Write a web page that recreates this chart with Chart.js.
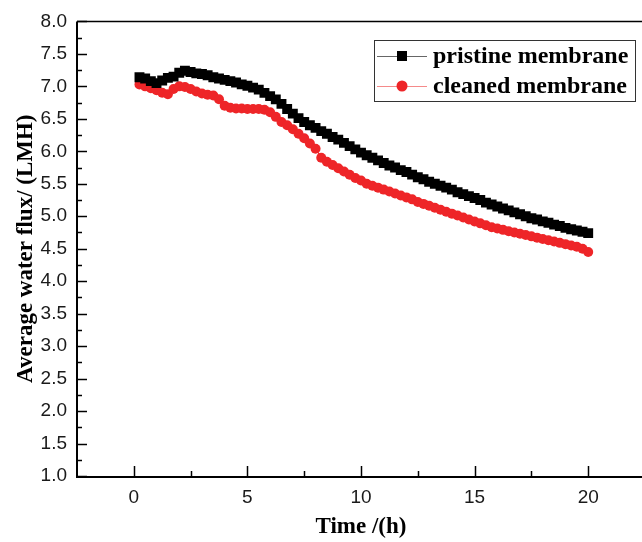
<!DOCTYPE html>
<html>
<head>
<meta charset="utf-8">
<script src="https://cdn.jsdelivr.net/npm/chart.js@4/dist/chart.umd.min.js"></script>
<style>
  html, body { margin: 0; padding: 0; background: #fff; overflow: hidden; width: 642px; height: 542px; }
  #wrap { width: 652px; height: 542px; }
</style>
</head>
<body>
<div id="wrap"><canvas id="c" width="652" height="542"></canvas></div>
<script>
// ---- data ----
const timeH = [0.25,0.5,0.75,1.0,1.25,1.5,1.75,2.0,2.25,2.5,2.75,3.0,3.25,3.5,3.75,4.0,4.25,4.5,4.75,5.0,
  5.25,5.5,5.75,6.0,6.25,6.5,6.75,7.0,7.25,7.5,7.75,8.0,8.25,8.5,8.75,9.0,9.25,9.5,9.75,10.0,
  10.25,10.5,10.75,11.0,11.25,11.5,11.75,12.0,12.25,12.5,12.75,13.0,13.25,13.5,13.75,14.0,14.25,14.5,14.75,15.0,
  15.25,15.5,15.75,16.0,16.25,16.5,16.75,17.0,17.25,17.5,17.75,18.0,18.25,18.5,18.75,19.0,19.25,19.5,19.75,20.0];
const pristineFlux = [7.14,7.12,7.08,7.05,7.09,7.13,7.15,7.21,7.24,7.22,7.20,7.19,7.17,7.14,7.12,7.10,7.08,7.06,7.03,7.01,
  6.98,6.95,6.90,6.85,6.80,6.73,6.65,6.58,6.51,6.45,6.40,6.36,6.31,6.27,6.22,6.18,6.13,6.08,6.03,5.98,
  5.94,5.90,5.86,5.82,5.78,5.75,5.71,5.68,5.64,5.60,5.57,5.53,5.50,5.47,5.44,5.41,5.37,5.34,5.31,5.28,
  5.25,5.21,5.18,5.15,5.12,5.09,5.06,5.03,5.00,4.97,4.95,4.92,4.90,4.87,4.85,4.82,4.80,4.78,4.76,4.74];
const cleanedFlux = [7.03,7.00,6.97,6.94,6.90,6.88,6.96,7.00,6.99,6.96,6.92,6.89,6.87,6.86,6.80,6.70,6.67,6.66,6.66,6.65,
  6.65,6.65,6.64,6.60,6.53,6.45,6.40,6.34,6.27,6.20,6.12,6.04,5.90,5.84,5.79,5.74,5.69,5.64,5.59,5.55,
  5.50,5.47,5.44,5.41,5.38,5.35,5.32,5.29,5.26,5.22,5.19,5.16,5.13,5.10,5.07,5.04,5.01,4.98,4.95,4.92,
  4.89,4.86,4.83,4.81,4.79,4.77,4.75,4.73,4.71,4.69,4.67,4.65,4.63,4.61,4.59,4.57,4.55,4.53,4.50,4.45];
const seriesNames = ['pristine membrane', 'cleaned membrane'];
const xTickValues = [0, 5, 10, 15, 20];
const xMinorValues = [2.5, 7.5, 12.5, 17.5];

const BLACK = '#000000';
const RED = '#ee2528';
const serif = '"Liberation Serif", "Times New Roman", serif';
const sans = '"Liberation Sans", Arial, sans-serif';

const toPts = (ys) => timeH.map((t, i) => ({ x: t, y: ys[i] }));

const framePlugin = {
  id: 'frame',
  afterDraw(chart) {
    const { ctx, chartArea: a, scales: { x, y } } = chart;
    ctx.save();
    ctx.strokeStyle = '#000';
    // y ticks (inward)
    ctx.lineWidth = 1.5;
    for (let v = 1; v <= 8.0001; v += 0.25) {
      const py = Math.round(y.getPixelForValue(v)) + 0.5;
      const major = Math.abs(v * 2 - Math.round(v * 2)) < 1e-6;
      ctx.beginPath();
      ctx.moveTo(a.left, py);
      ctx.lineTo(a.left + (major ? 10 : 5), py);
      ctx.stroke();
    }
    // x ticks (inward)
    xTickValues.forEach(v => {
      const px = Math.round(x.getPixelForValue(v)) + 0.5;
      ctx.beginPath(); ctx.moveTo(px, a.bottom); ctx.lineTo(px, a.bottom - 10); ctx.stroke();
    });
    xMinorValues.forEach(v => {
      const px = Math.round(x.getPixelForValue(v)) + 0.5;
      ctx.beginPath(); ctx.moveTo(px, a.bottom); ctx.lineTo(px, a.bottom - 5); ctx.stroke();
    });
    // frame
    ctx.lineWidth = 2;
    ctx.beginPath();
    ctx.moveTo(a.left, a.top); ctx.lineTo(a.left, a.bottom + 1); ctx.lineTo(a.right, a.bottom + 1);
    ctx.stroke();
    ctx.lineWidth = 1.5;
    ctx.beginPath();
    ctx.moveTo(a.left, a.top); ctx.lineTo(a.right, a.top); ctx.lineTo(a.right, a.bottom);
    ctx.stroke();

    // legend
    const bx = 374.5, by = 40.5, bw = 261, bh = 61;
    ctx.fillStyle = '#fff';
    ctx.fillRect(bx, by, bw, bh);
    ctx.lineWidth = 1;
    ctx.strokeStyle = '#333';
    ctx.strokeRect(bx, by, bw, bh);
    const rows = [
      { name: seriesNames[0], line: '#666', color: BLACK, shape: 'rect', yy: 56 },
      { name: seriesNames[1], line: '#f58a8a', color: RED, shape: 'circle', yy: 86 }
    ];
    rows.forEach(r => {
      ctx.strokeStyle = r.line;
      ctx.lineWidth = 1.2;
      ctx.beginPath(); ctx.moveTo(377, r.yy + 0.5); ctx.lineTo(427, r.yy + 0.5); ctx.stroke();
      ctx.fillStyle = r.color;
      if (r.shape === 'rect') { ctx.fillRect(397, r.yy - 5, 10, 10); }
      else { ctx.beginPath(); ctx.arc(402, r.yy, 5.5, 0, Math.PI * 2); ctx.fill(); }
      ctx.fillStyle = '#000';
      ctx.font = 'bold 24px ' + serif;
      ctx.textBaseline = 'middle';
      ctx.textAlign = 'left';
      ctx.fillText(r.name, 433, r.yy + 1);
    });
    ctx.restore();
  }
};

new Chart(document.getElementById('c'), {
  type: 'line',
  data: {
    datasets: [
      {
        label: seriesNames[0],
        data: toPts(pristineFlux),
        borderColor: BLACK,
        backgroundColor: BLACK,
        borderWidth: 1,
        pointStyle: 'rect',
        pointRadius: 7,
        pointBorderWidth: 0,
        pointHoverRadius: 7,
        tension: 0
      },
      {
        label: seriesNames[1],
        data: toPts(cleanedFlux),
        borderColor: RED,
        backgroundColor: RED,
        borderWidth: 1,
        pointStyle: 'circle',
        pointRadius: 5,
        pointBorderWidth: 0,
        pointHoverRadius: 5,
        tension: 0
      }
    ]
  },
  options: {
    responsive: false,
    animation: false,
    events: [],
    layout: { padding: { left: 0, top: 19, right: 2, bottom: 0 } },
    plugins: { legend: { display: false }, tooltip: { enabled: false } },
    scales: {
      x: {
        type: 'linear',
        min: -2.5,
        max: 22.5,
        grid: { display: false, drawTicks: false, tickLength: 0 },
        border: { display: false },
        afterBuildTicks(s) { s.ticks = xTickValues.map(v => ({ value: v })); },
        afterFit(s) { s.height = 66; },
        ticks: {
          padding: 10,
          color: '#1a1a1a',
          font: { family: sans, size: 19 },
          maxRotation: 0,
          callback: (v) => String(v)
        },
        title: {
          display: true,
          text: 'Time /(h)',
          color: '#000',
          font: { family: serif, size: 23, weight: 'bold' },
          padding: { top: 0, bottom: 1 }
        }
      },
      y: {
        type: 'linear',
        min: 1,
        max: 8,
        grid: { display: false, drawTicks: false, tickLength: 0 },
        border: { display: false },
        afterFit(s) { s.width = 77; },
        ticks: {
          stepSize: 0.5,
          padding: 10,
          color: '#1a1a1a',
          font: { family: sans, size: 19 },
          callback: (v) => Number(v).toFixed(1)
        },
        title: {
          display: true,
          text: 'Average water flux/ (LMH)',
          color: '#000',
          font: { family: serif, size: 23, weight: 'bold' },
          padding: { top: 12, bottom: 0 }
        }
      }
    }
  },
  plugins: [framePlugin]
});
</script>
</body>
</html>
